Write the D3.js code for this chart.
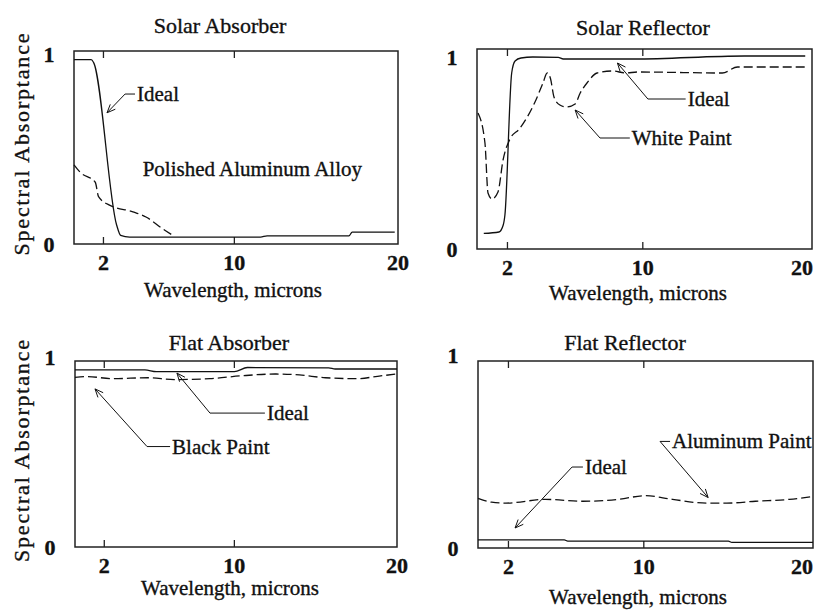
<!DOCTYPE html>
<html>
<head>
<meta charset="utf-8">
<script src="https://cdn.jsdelivr.net/npm/d3@7"></script>
<style>
  body { margin: 0; background: #fff; }
  text { font-family: "Liberation Serif", "Times New Roman", serif; fill: #111; stroke: #111; stroke-width: 0.35px; }
</style>
</head>
<body>
<div id="chart"></div>
<script>
// Spectral absorptance of four surface types, wavelength in microns

const xTicks = [2, 10, 20];
const yTicks = [0, 1];

// [wavelength, absorptance]
const solarAbsorberIdeal = [[0.2, 0.955], [1.25, 0.955], [1.4, 0.94], [2.8, 0.1], [3.05, 0.045], [3.6, 0.036],
  [11.6, 0.036], [12, 0.042], [17, 0.042], [17.2, 0.062], [19.8, 0.062]];
const solarAbsorberAlloy = [[0.2, 0.41], [0.6, 0.37], [1.5, 0.32], [1.7, 0.245], [2.4, 0.2], [3.8, 0.167],
  [4.6, 0.14], [5.6, 0.08], [6.3, 0.041]];

const solarReflectorIdeal = [[0.6, 0.078], [1.5, 0.085], [1.75, 0.12], [1.85, 0.17], [2.25, 0.88], [2.45, 0.94],
  [2.8, 0.955], [3.5, 0.96], [5.0, 0.958], [5.3, 0.95], [9.5, 0.95], [16, 0.965], [19.6, 0.965]];
const solarReflectorWhitePaint = [[0.26, 0.68], [0.67, 0.53], [0.85, 0.28], [1.09, 0.25], [1.44, 0.285],
  [1.74, 0.445], [2.15, 0.55], [2.7, 0.6], [3.6, 0.73], [4.1, 0.83], [4.35, 0.88], [4.55, 0.85], [4.75, 0.76],
  [5.1, 0.72], [5.5, 0.71], [6.0, 0.725], [6.3, 0.78], [6.7, 0.83], [7.3, 0.88], [8.2, 0.89], [9.0, 0.88],
  [9.7, 0.885], [14.7, 0.88], [15.6, 0.91], [19.6, 0.91]];

const flatAbsorberIdeal = [[0.2, 0.952], [4.5, 0.952], [5.2, 0.943], [10, 0.943], [10.8, 0.965], [15.8, 0.963],
  [16.2, 0.957], [20, 0.957]];
const flatAbsorberBlackPaint = [[0.2, 0.912], [1.0, 0.916], [2.5, 0.905], [4.7, 0.91], [6.3, 0.9], [8.5, 0.905],
  [10.4, 0.92], [12.5, 0.93], [14, 0.925], [15.6, 0.91], [17.5, 0.905], [19, 0.92], [20, 0.93]];

const flatReflectorIdeal = [[0.2, 0.043], [5.3, 0.043], [5.5, 0.037], [15, 0.037], [15.2, 0.03], [20, 0.03]];
const flatReflectorAluminumPaint = [[0.2, 0.265], [1.0, 0.245], [1.85, 0.24], [4.2, 0.26], [6.4, 0.25],
  [8.5, 0.26], [10.1, 0.28], [11.7, 0.26], [13.7, 0.24], [14.9, 0.24], [16.6, 0.25], [18.6, 0.26], [20, 0.275]];

const width = 815;
const height = 611;

const svg = d3.select("#chart")
  .append("svg")
  .attr("width", width)
  .attr("height", height)
  .attr("viewBox", [0, 0, width, height]);

svg.append("rect").attr("width", width).attr("height", height).attr("fill", "#fff");

// panel layout; annotations use data coordinates (tip, elbow, text start)
const panels = [
  {
    title: "Solar Absorber", left: 74, top: 51, right: 398, bottom: 244,
    titleX: 220, titleY: 33, xLabelX: 233, xLabelY: 297, oneDy: 11, yLabel: true,
    solid: solarAbsorberIdeal, dashed: solarAbsorberAlloy,
    notes: [{ text: "Ideal", tip: [2.22, 0.68], elbow: [3.32, 0.777], textX: 4.05 }],
    plain: [{ text: "Polished Aluminum Alloy", x: 11.1, y: 0.39 }]
  },
  {
    title: "Solar Reflector", left: 477, top: 49, right: 812, bottom: 249,
    titleX: 643, titleY: 35, xLabelX: 638, xLabelY: 300, oneDy: 16, yLabel: false,
    solid: solarReflectorIdeal, dashed: solarReflectorWhitePaint,
    notes: [
      { text: "Ideal", tip: [8.5, 0.93], elbow: [10.3, 0.75], textX: 12.65 },
      { text: "White Paint", tip: [6.0, 0.695], elbow: [7.47, 0.555], textX: 9.35 }
    ],
    plain: []
  },
  {
    title: "Flat Absorber", left: 75, top: 361, right: 397, bottom: 547,
    titleX: 229, titleY: 350, xLabelX: 230, xLabelY: 595, oneDy: 4, yLabel: true,
    solid: flatAbsorberIdeal, dashed: flatAbsorberBlackPaint,
    notes: [
      { text: "Ideal", tip: [6.47, 0.935], elbow: [8.5, 0.72], textX: 12.0 },
      { text: "Black Paint", tip: [1.43, 0.85], elbow: [4.63, 0.54], textX: 6.17 }
    ],
    plain: []
  },
  {
    title: "Flat Reflector", left: 478, top: 361, right: 813, bottom: 548,
    titleX: 625, titleY: 350, xLabelX: 638, xLabelY: 604, oneDy: 2, yLabel: false,
    solid: flatReflectorIdeal, dashed: flatReflectorAluminumPaint,
    notes: [
      { text: "Aluminum Paint", tip: [13.8, 0.27], elbow: [10.96, 0.57], textX: 11.67 },
      { text: "Ideal", tip: [2.39, 0.107], elbow: [5.76, 0.433], textX: 6.52 }
    ],
    plain: []
  }
];

panels.forEach(p => {
  const x = d3.scaleLinear().domain([0.2, 20]).range([p.left, p.right]);
  const y = d3.scaleLinear().domain([0, 1]).range([p.bottom, p.top]);
  const g = svg.append("g");

  const line = d3.line()
    .x(d => x(d[0]))
    .y(d => y(d[1]))
    .curve(d3.curveMonotoneX);

  // frame
  g.append("rect")
    .attr("x", p.left).attr("y", p.top)
    .attr("width", p.right - p.left).attr("height", p.bottom - p.top)
    .attr("fill", "none").attr("stroke", "#222").attr("stroke-width", 1.5);

  // inner ticks top and bottom
  xTicks.filter(v => v < 20).forEach(v => {
    g.append("line").attr("x1", x(v)).attr("x2", x(v))
      .attr("y1", p.bottom).attr("y2", p.bottom - 7).attr("stroke", "#222").attr("stroke-width", 1.3);
    g.append("line").attr("x1", x(v)).attr("x2", x(v))
      .attr("y1", p.top).attr("y2", p.top + 7).attr("stroke", "#222").attr("stroke-width", 1.3);
  });

  // tick labels
  g.selectAll(".xt")
    .data(xTicks)
    .join("text")
    .attr("x", d => Math.min(x(d), width - 13))
    .attr("y", p.bottom + 26)
    .attr("text-anchor", "middle")
    .attr("font-size", 22)
    .attr("font-weight", "bold")
    .text(d => d);

  g.selectAll(".yt")
    .data(yTicks)
    .join("text")
    .attr("x", p.left - 25)
    .attr("y", d => d === 1 ? p.top + p.oneDy : y(d) + 8)
    .attr("text-anchor", "middle")
    .attr("font-size", 22)
    .attr("font-weight", "bold")
    .text(d => d);

  g.append("text")
    .attr("x", p.titleX).attr("y", p.titleY)
    .attr("text-anchor", "middle")
    .attr("font-size", 22)
    .text(p.title);

  g.append("text")
    .attr("x", p.xLabelX).attr("y", p.xLabelY)
    .attr("text-anchor", "middle")
    .attr("font-size", 21)
    .text("Wavelength, microns");

  if (p.yLabel) {
    const cy = (p.top + p.bottom) / 2 - 3;
    g.append("text")
      .attr("transform", `translate(29, ${cy}) rotate(-90)`)
      .attr("text-anchor", "middle")
      .attr("font-size", 22)
      .attr("textLength", 222)
      .attr("lengthAdjust", "spacing")
      .text("Spectral Absorptance");
  }

  // curves
  g.append("path")
    .attr("d", line(p.dashed))
    .attr("fill", "none").attr("stroke", "#111").attr("stroke-width", 1.3)
    .attr("stroke-dasharray", "9,4");

  g.append("path")
    .attr("d", line(p.solid))
    .attr("fill", "none").attr("stroke", "#111").attr("stroke-width", 1.3);

  // annotations with open arrowheads
  p.notes.forEach(n => {
    const tx = x(n.tip[0]), ty = y(n.tip[1]);
    const ex = x(n.elbow[0]), ey = y(n.elbow[1]);
    const sx = x(n.textX);
    g.append("path")
      .attr("d", `M${sx - 2},${ey}L${ex},${ey}L${tx},${ty}`)
      .attr("fill", "none").attr("stroke", "#111").attr("stroke-width", 1);
    const ang = Math.atan2(ey - ty, ex - tx);
    const len = 9, spread = 0.4;
    const a1 = [tx + len * Math.cos(ang + spread), ty + len * Math.sin(ang + spread)];
    const a2 = [tx + len * Math.cos(ang - spread), ty + len * Math.sin(ang - spread)];
    g.append("path")
      .attr("d", `M${a1[0]},${a1[1]}L${tx},${ty}L${a2[0]},${a2[1]}`)
      .attr("fill", "none").attr("stroke", "#111").attr("stroke-width", 1);
    g.append("text")
      .attr("x", sx).attr("y", ey + 7)
      .attr("font-size", 21)
      .text(n.text);
  });

  p.plain.forEach(t => {
    g.append("text")
      .attr("x", x(t.x)).attr("y", y(t.y) + 7)
      .attr("text-anchor", "middle")
      .attr("font-size", 21)
      .text(t.text);
  });
});
</script>
</body>
</html>
